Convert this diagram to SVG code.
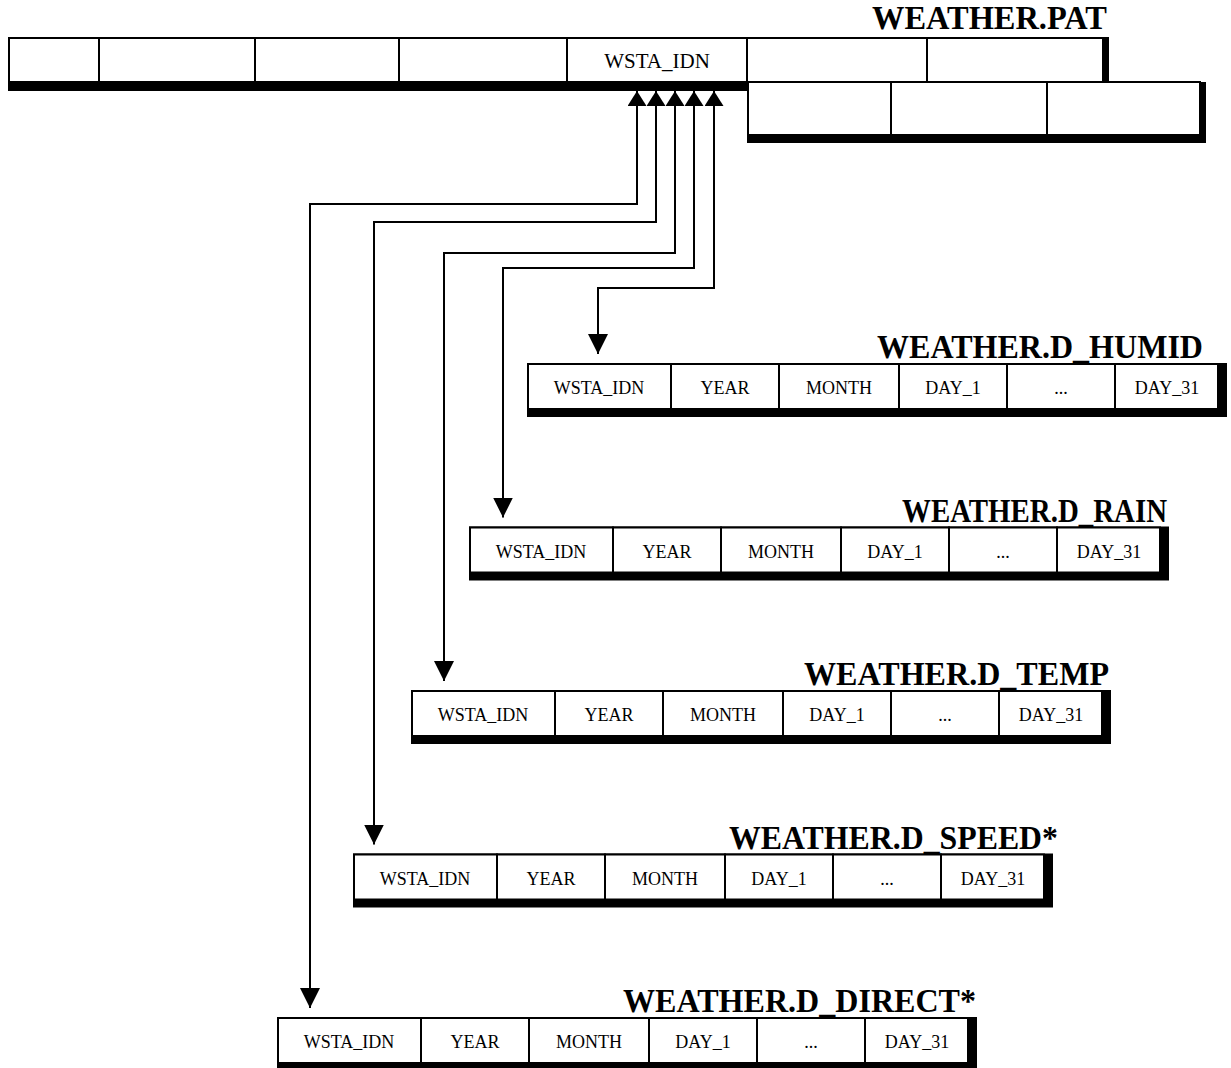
<svg xmlns="http://www.w3.org/2000/svg" width="1231" height="1068" viewBox="0 0 1231 1068">
<style>
.bg{fill:#fff}
.sh{fill:#000}
.cell{fill:#fff;stroke:#000;stroke-width:2}
.div{stroke:#000;stroke-width:2}
.t{font-family:"Liberation Serif","Times New Roman",serif;font-size:18px;fill:#000;text-anchor:middle}
.tt{font-family:"Liberation Serif","Times New Roman",serif;font-size:21px;fill:#000;text-anchor:middle}
.title{font-family:"Liberation Serif","Times New Roman",serif;font-size:33px;font-weight:bold;fill:#000;text-anchor:start}
.conn{fill:none;stroke:#000;stroke-width:2}
</style>
<defs>
<marker id="up" markerUnits="userSpaceOnUse" viewBox="0 0 15 19" refX="15" refY="9.5" markerWidth="15" markerHeight="19" orient="auto-start-reverse">
<path d="M0,0 L15,9.5 L0,19 z" fill="#000"/>
</marker>
<marker id="down" markerUnits="userSpaceOnUse" viewBox="0 0 20 20" refX="20" refY="10" markerWidth="20" markerHeight="20" orient="auto">
<path d="M0,0 L20,10 L0,20 z" fill="#000"/>
</marker>
</defs>
<rect class="bg" x="0" y="0" width="1231" height="1068"/>

<g id="weather_pat">
<text class="title" x="872" y="29" textLength="235" lengthAdjust="spacingAndGlyphs">WEATHER.PAT</text>
<rect class="sh" x="8" y="37" width="1101" height="54"/>
<rect class="cell" x="9" y="38" width="1094" height="44"/>
<line class="div" x1="99" y1="38" x2="99" y2="82"/>
<line class="div" x1="255" y1="38" x2="255" y2="82"/>
<line class="div" x1="399" y1="38" x2="399" y2="82"/>
<line class="div" x1="567" y1="38" x2="567" y2="82"/>
<line class="div" x1="747" y1="38" x2="747" y2="82"/>
<line class="div" x1="927" y1="38" x2="927" y2="82"/>
<text class="tt" x="657" y="68">WSTA_IDN</text>
<rect class="sh" x="747" y="82" width="459" height="61"/>
<rect class="cell" x="748" y="82" width="452" height="53"/>
<line class="div" x1="891" y1="82" x2="891" y2="135"/>
<line class="div" x1="1047" y1="82" x2="1047" y2="135"/>
</g>

<g id="d_humid" transform="translate(527,363)">
<text class="title" x="350" y="-5" textLength="326" lengthAdjust="spacingAndGlyphs">WEATHER.D_HUMID</text>
<rect class="sh" x="0" y="0" width="700" height="54"/>
<rect class="cell" x="1" y="1" width="690" height="45"/>
<line class="div" x1="144" y1="0" x2="144" y2="46"/>
<line class="div" x1="252" y1="0" x2="252" y2="46"/>
<line class="div" x1="372" y1="0" x2="372" y2="46"/>
<line class="div" x1="480" y1="0" x2="480" y2="46"/>
<line class="div" x1="588" y1="0" x2="588" y2="46"/>
<text class="t" x="72" y="31">WSTA_IDN</text>
<text class="t" x="198" y="31">YEAR</text>
<text class="t" x="312" y="31">MONTH</text>
<text class="t" x="426" y="31">DAY_1</text>
<text class="t" x="534" y="31">...</text>
<text class="t" x="640" y="31">DAY_31</text>
</g>

<g id="d_rain" transform="translate(469,526.5)">
<text class="title" x="433" y="-5" textLength="265" lengthAdjust="spacingAndGlyphs">WEATHER.D_RAIN</text>
<rect class="sh" x="0" y="0" width="700" height="54"/>
<rect class="cell" x="1" y="1" width="690" height="45"/>
<line class="div" x1="144" y1="0" x2="144" y2="46"/>
<line class="div" x1="252" y1="0" x2="252" y2="46"/>
<line class="div" x1="372" y1="0" x2="372" y2="46"/>
<line class="div" x1="480" y1="0" x2="480" y2="46"/>
<line class="div" x1="588" y1="0" x2="588" y2="46"/>
<text class="t" x="72" y="31">WSTA_IDN</text>
<text class="t" x="198" y="31">YEAR</text>
<text class="t" x="312" y="31">MONTH</text>
<text class="t" x="426" y="31">DAY_1</text>
<text class="t" x="534" y="31">...</text>
<text class="t" x="640" y="31">DAY_31</text>
</g>

<g id="d_temp" transform="translate(411,690)">
<text class="title" x="393" y="-5" textLength="305" lengthAdjust="spacingAndGlyphs">WEATHER.D_TEMP</text>
<rect class="sh" x="0" y="0" width="700" height="54"/>
<rect class="cell" x="1" y="1" width="690" height="45"/>
<line class="div" x1="144" y1="0" x2="144" y2="46"/>
<line class="div" x1="252" y1="0" x2="252" y2="46"/>
<line class="div" x1="372" y1="0" x2="372" y2="46"/>
<line class="div" x1="480" y1="0" x2="480" y2="46"/>
<line class="div" x1="588" y1="0" x2="588" y2="46"/>
<text class="t" x="72" y="31">WSTA_IDN</text>
<text class="t" x="198" y="31">YEAR</text>
<text class="t" x="312" y="31">MONTH</text>
<text class="t" x="426" y="31">DAY_1</text>
<text class="t" x="534" y="31">...</text>
<text class="t" x="640" y="31">DAY_31</text>
</g>

<g id="d_speed" transform="translate(353,853.5)">
<text class="title" x="376" y="-5" textLength="329" lengthAdjust="spacingAndGlyphs">WEATHER.D_SPEED*</text>
<rect class="sh" x="0" y="0" width="700" height="54"/>
<rect class="cell" x="1" y="1" width="690" height="45"/>
<line class="div" x1="144" y1="0" x2="144" y2="46"/>
<line class="div" x1="252" y1="0" x2="252" y2="46"/>
<line class="div" x1="372" y1="0" x2="372" y2="46"/>
<line class="div" x1="480" y1="0" x2="480" y2="46"/>
<line class="div" x1="588" y1="0" x2="588" y2="46"/>
<text class="t" x="72" y="31">WSTA_IDN</text>
<text class="t" x="198" y="31">YEAR</text>
<text class="t" x="312" y="31">MONTH</text>
<text class="t" x="426" y="31">DAY_1</text>
<text class="t" x="534" y="31">...</text>
<text class="t" x="640" y="31">DAY_31</text>
</g>

<g id="d_direct" transform="translate(277,1017)">
<text class="title" x="346" y="-5" textLength="353" lengthAdjust="spacingAndGlyphs">WEATHER.D_DIRECT*</text>
<rect class="sh" x="0" y="0" width="700" height="54"/>
<rect class="cell" x="1" y="1" width="690" height="45"/>
<line class="div" x1="144" y1="0" x2="144" y2="46"/>
<line class="div" x1="252" y1="0" x2="252" y2="46"/>
<line class="div" x1="372" y1="0" x2="372" y2="46"/>
<line class="div" x1="480" y1="0" x2="480" y2="46"/>
<line class="div" x1="588" y1="0" x2="588" y2="46"/>
<text class="t" x="72" y="31">WSTA_IDN</text>
<text class="t" x="198" y="31">YEAR</text>
<text class="t" x="312" y="31">MONTH</text>
<text class="t" x="426" y="31">DAY_1</text>
<text class="t" x="534" y="31">...</text>
<text class="t" x="640" y="31">DAY_31</text>
</g>

<g id="connectors">
<path class="conn" d="M637,91 V204 H310 V1008" marker-start="url(#up)" marker-end="url(#down)"/>
<path class="conn" d="M656,91 V222 H374 V844.5" marker-start="url(#up)" marker-end="url(#down)"/>
<path class="conn" d="M675,91 V253 H444 V681" marker-start="url(#up)" marker-end="url(#down)"/>
<path class="conn" d="M694,91 V268 H503 V517.5" marker-start="url(#up)" marker-end="url(#down)"/>
<path class="conn" d="M714,91 V288 H598 V354" marker-start="url(#up)" marker-end="url(#down)"/>
</g>
</svg>
